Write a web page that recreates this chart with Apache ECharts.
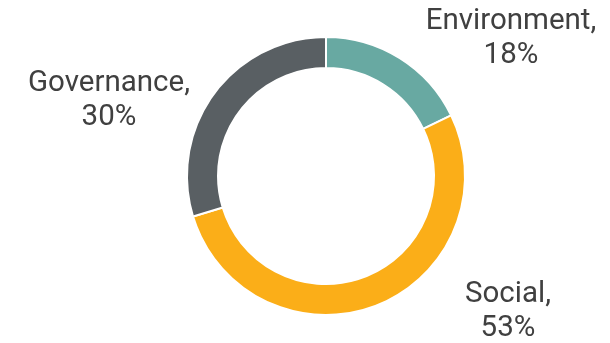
<!DOCTYPE html>
<html>
<head>
<meta charset="utf-8">
<script src="https://cdn.jsdelivr.net/npm/echarts@6/dist/echarts.min.js"></script>
<style>
  html, body { margin: 0; padding: 0; background: #ffffff; }
  #chart { width: 610px; height: 343px; }
</style>
</head>
<body>
<div id="chart"></div>
<script>
// ESG split of the portfolio, in percent
const categories = ['Environment', 'Social', 'Governance'];
const shares = [18, 53, 30];
const colors = ['#68a9a2', '#fbae18', '#595f63'];
// Where each two-line label block sits (centre of the block)
const labelSpots = [[511, 39], [508, 312], [109, 101]];

const chart = echarts.init(document.getElementById('chart'), null, { renderer: 'canvas' });

chart.setOption({
  animation: false,
  series: [{
    type: 'pie',
    center: [326, 176],
    radius: [108, 139],
    startAngle: 90,
    clockwise: true,
    avoidLabelOverlap: false,
    itemStyle: { borderColor: '#ffffff', borderWidth: 2 },
    label: {
      show: true,
      position: 'outside',
      formatter: '{b},\n{c}%',
      fontFamily: 'Roboto',
      fontSize: 29.5,
      lineHeight: 34,
      color: '#404040',
      align: 'center'
    },
    labelLine: { show: false },
    labelLayout: function (p) {
      const s = labelSpots[p.dataIndex];
      return { x: s[0], y: s[1], align: 'center', verticalAlign: 'middle' };
    },
    data: categories.map((name, i) => ({
      name: name,
      value: shares[i],
      itemStyle: { color: colors[i] }
    }))
  }]
});
</script>
</body>
</html>
